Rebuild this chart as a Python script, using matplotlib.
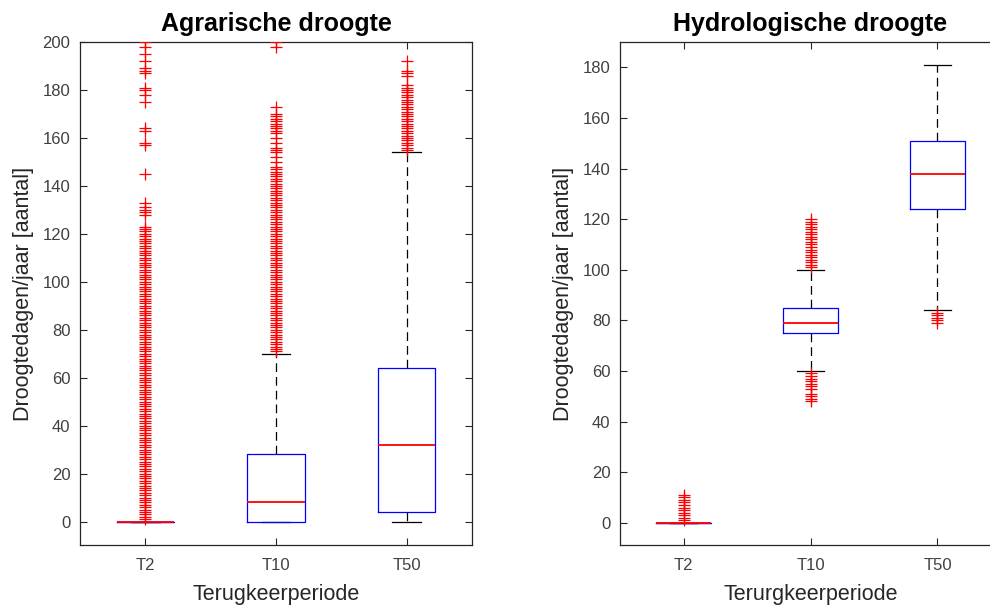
import numpy as np
import matplotlib.pyplot as plt

plt.rcParams['font.family'] = ['Liberation Sans', 'DejaVu Sans']

labels = ["T2", "T10", "T50"]

# Agrarische droogte: box statistics per return period
agr_q1 = [0, 0, 4]
agr_med = [0, 8, 32]
agr_q3 = [0, 28, 64]
agr_lo = [0, 0, 0]
agr_hi = [0, 70, 154]
agr_fliers_t2 = [1, 2, 3, 4, 5, 6, 7, 8, 9, 10, 11, 12, 13, 14, 15, 16, 17, 18, 19, 20,
                 21, 22, 23, 24, 25, 26, 27, 28, 29, 30, 31, 32, 33, 34, 35, 36, 37, 38, 39, 40,
                 41, 42, 43, 44, 45, 46, 47, 48, 49, 50, 51, 52, 53, 54, 55, 56, 57, 58, 59, 60,
                 61, 62, 63, 64, 65, 66, 67, 68, 69, 70, 71, 72, 73, 74, 75, 76, 77, 78, 79, 80,
                 81, 82, 83, 84, 85, 86, 87, 88, 89, 90, 91, 92, 93, 94, 95, 96, 97, 98, 99, 100,
                 101, 102, 103, 104, 105, 106, 107, 108, 109, 110, 111, 112, 113, 114, 115, 116,
                 117, 118, 119, 120, 121, 122, 123, 128, 129, 130, 131, 133, 145, 157, 158, 163,
                 164, 175, 178, 180, 181, 187, 188, 189, 192, 195, 198, 200]
agr_fliers_t10 = [71, 72, 73, 74, 75, 76, 77, 78, 79, 80, 81, 82, 83, 84, 85, 86, 87, 88, 89, 90,
                  91, 92, 93, 94, 95, 96, 97, 98, 99, 100, 101, 102, 103, 104, 105, 106, 107, 108,
                  109, 110, 111, 112, 113, 114, 115, 116, 117, 118, 119, 120, 121, 122, 123, 124,
                  125, 126, 127, 128, 129, 130, 131, 132, 133, 134, 135, 136, 137, 138, 139, 140,
                  141, 142, 143, 144, 145, 146, 147, 148, 150, 152, 154, 155, 156, 158, 160, 162,
                  163, 164, 165, 166, 167, 168, 169, 170, 173, 198, 200]
agr_fliers_t50 = [155, 156, 157, 158, 159, 160, 161, 162, 163, 164, 165, 166, 167, 168, 169, 170,
                  171, 172, 173, 174, 175, 176, 177, 178, 179, 180, 181, 182, 186, 187, 188, 192]

# Hydrologische droogte
hyd_q1 = [0, 75, 124]
hyd_med = [0, 79, 138]
hyd_q3 = [0, 85, 151]
hyd_lo = [0, 60, 84]
hyd_hi = [0, 100, 181]
hyd_fliers_t2 = [1, 2, 3, 4, 5, 6, 7, 8, 9, 10, 11]
hyd_fliers_t10 = [48, 49, 50, 51, 53, 54, 55, 56, 57, 58, 59,
                  101, 102, 103, 104, 105, 106, 107, 108, 109, 110, 111, 112, 113, 114, 115,
                  116, 117, 118, 119, 120]
hyd_fliers_t50 = [79, 80, 81, 82, 83]


def make_stats(q1, med, q3, lo, hi, fliers):
    stats = []
    for i in range(len(labels)):
        stats.append({"q1": q1[i], "med": med[i], "q3": q3[i],
                      "whislo": lo[i], "whishi": hi[i], "fliers": fliers[i],
                      "label": labels[i]})
    return stats


def draw(ax, stats, ylim, yticks, title, xlabel):
    ax.bxp(stats, positions=[1, 2, 3], widths=0.44, showfliers=True,
           boxprops=dict(color="blue", linewidth=0.9, zorder=3),
           medianprops=dict(color="red", linewidth=1.3, zorder=4),
           whiskerprops=dict(color="black", linewidth=0.9, linestyle=(0, (7, 4)), zorder=2),
           capprops=dict(color="black", linewidth=0.9, zorder=2),
           capwidths=0.22,
           flierprops=dict(marker="+", markeredgecolor="red", markersize=8,
                           markeredgewidth=0.9, linestyle="none", zorder=5))
    ax.set_xlim(0.5, 3.5)
    ax.set_ylim(*ylim)
    ax.set_yticks(yticks)
    ax.set_xticks([1, 2, 3])
    ax.set_xticklabels(labels)
    ax.tick_params(direction="in", top=True, right=True, length=5,
                   labelsize=12, colors="#262626", labelcolor="#404040", width=0.8)
    ax.tick_params(axis="y", pad=7)
    ax.tick_params(axis="x", pad=9)
    for s in ax.spines.values():
        s.set_color("#262626")
        s.set_linewidth(0.9)
    ax.set_title(title, fontsize=18, fontweight="bold", pad=8)
    ax.set_xlabel(xlabel, fontsize=15.5, color="#262626", labelpad=8)
    ax.set_ylabel("Droogtedagen/jaar [aantal]", fontsize=15.5, color="#262626", labelpad=6)


fig = plt.figure(figsize=(9.9, 6.08), dpi=100)
ax1 = fig.add_axes([0.0808, 0.1028, 0.396, 0.828])
ax2 = fig.add_axes([0.6263, 0.1028, 0.3848, 0.828])

draw(ax1, make_stats(agr_q1, agr_med, agr_q3, agr_lo, agr_hi,
                     [agr_fliers_t2, agr_fliers_t10, agr_fliers_t50]),
     (-10, 200), np.arange(0, 201, 20), "Agrarische droogte", "Terugkeerperiode")
draw(ax2, make_stats(hyd_q1, hyd_med, hyd_q3, hyd_lo, hyd_hi,
                     [hyd_fliers_t2, hyd_fliers_t10, hyd_fliers_t50]),
     (-9, 190), np.arange(0, 181, 20), "Hydrologische droogte", "Terurgkeerperiode")

fig.savefig("out.png", dpi=100)
